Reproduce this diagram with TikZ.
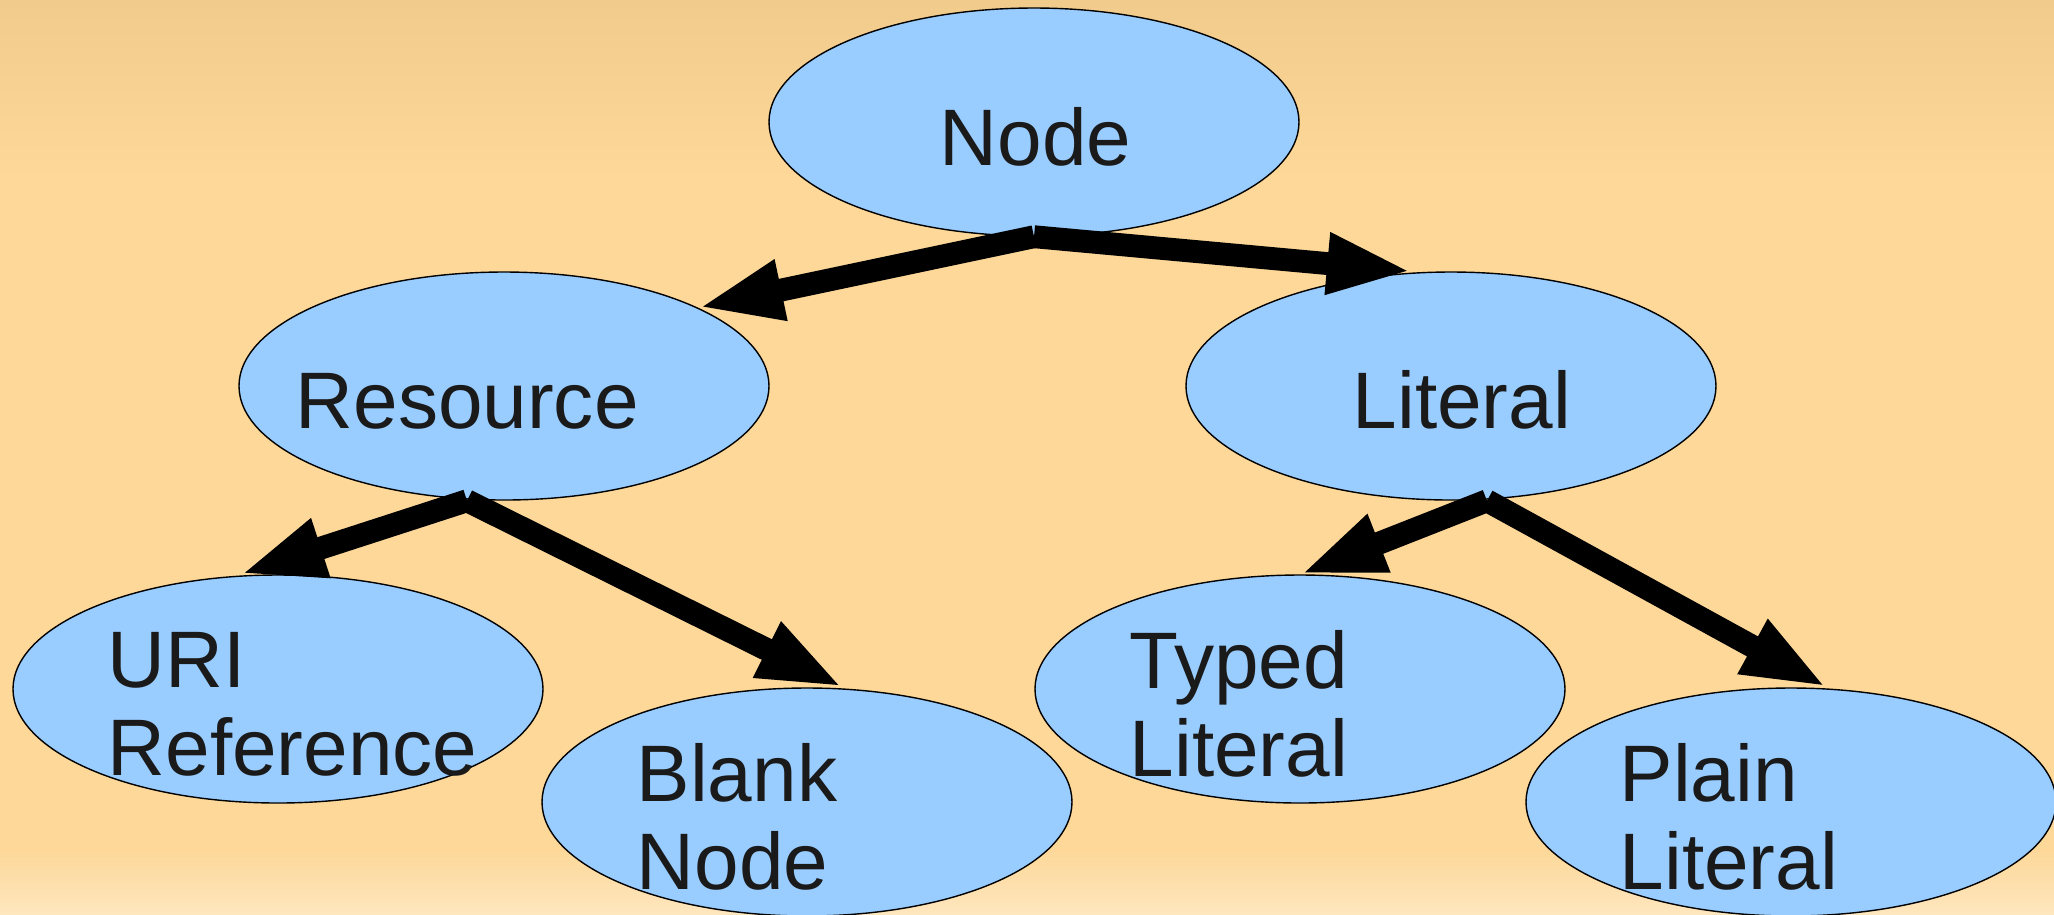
\documentclass[tikz,border=0pt]{standalone}
\usepackage{fontspec}
\setmainfont{Liberation Sans}
\usetikzlibrary{arrows.meta,shapes.geometric}
\definecolor{bgtop}{HTML}{F1CB8C}
\definecolor{bgmid}{HTML}{FDD899}
\definecolor{bglow}{HTML}{FEE6BE}
\definecolor{ellblue}{HTML}{99CCFF}
\definecolor{txtgray}{HTML}{1A1A1A}

\begin{document}
\begin{tikzpicture}[
	ell/.style={ellipse, draw=black, line width=0.4pt, fill=ellblue, minimum width=5.3cm, minimum height=2.28cm, inner sep=0pt},
	lbl/.style={anchor=base west, inner sep=0pt, align=left, text=txtgray, font=\fontsize{22.8pt}{25pt}\selectfont},
	arr/.style={line width=6.5pt, -{Triangle[length=0.85cm, width=0.56cm]}}
]
	% 背景
	\useasboundingbox (0,0) rectangle (20.54,-9.14);
	\shade [top color=bgtop, bottom color=bgmid] (0,0) rectangle (20.54,-1.8);
	\fill [bgmid] (0,-1.79) rectangle (20.54,-8.51);
	\shade [top color=bgmid, bottom color=bglow] (0,-8.5) rectangle (20.54,-9.14);
	% 椭圆
	\node [ell] (node) at (10.34,-1.22) {};
	\node [ell] (res) at (5.04,-3.86) {};
	\node [ell] (lit) at (14.51,-3.86) {};
	\node [ell] (uri) at (2.78,-6.89) {};
	\node [ell] (blank) at (8.07,-8.02) {};
	\node [ell] (typed) at (13.00,-6.89) {};
	\node [ell] (plain) at (17.91,-8.02) {};
	% 文字 (多行时 base 为末行)
	\node [lbl] (nodetext) at (9.39,-1.65) {Node};
	\node [lbl] (restext) at (2.95,-4.28) {Resource};
	\node [lbl] (littext) at (13.52,-4.28) {Literal};
	\node [lbl] (uritext) at (1.07,-7.75) {URI\\Reference};
	\node [lbl] (blanktext) at (6.36,-8.89) {Blank\\Node};
	\node [lbl] (typedtext) at (11.29,-7.76) {Typed\\Literal};
	\node [lbl] (plaintext) at (16.19,-8.89) {Plain\\Literal};
	% 箭头
	\draw [arr] (node.south) -- (res.22);
	\draw [arr] (node.south) -- ([xshift=-0.39cm]lit.north);
	\draw [arr] ([xshift=-0.37cm]res.south) -- ([xshift=-0.38cm]uri.north);
	\draw [arr] ([xshift=-0.37cm]res.south) -- ([xshift=0.36cm]blank.north);
	\draw [arr] ([xshift=0.36cm]lit.south) -- (typed.north);
	\draw [arr] ([xshift=0.36cm]lit.south) -- ([xshift=0.36cm]plain.north);
\end{tikzpicture}
\end{document}
